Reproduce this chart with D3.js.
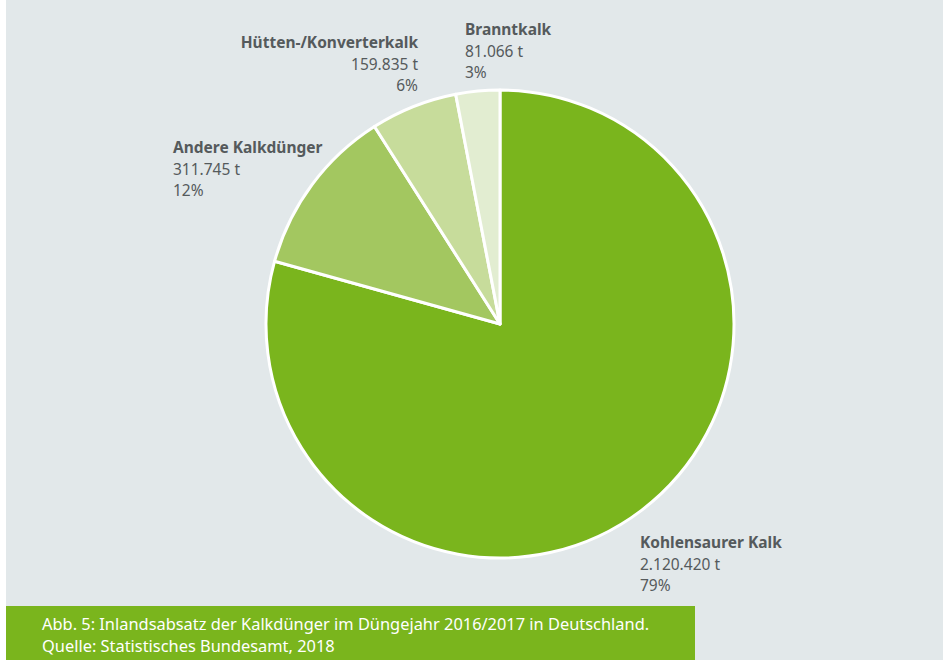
<!DOCTYPE html>
<html>
<head>
<meta charset="utf-8">
<script src="https://cdn.jsdelivr.net/npm/d3@7"></script>
<style>
  body { margin: 0; background: #fff; }
  svg { display: block; font-family: "Noto Sans", sans-serif; }
</style>
</head>
<body>
<svg width="943" height="660"></svg>
<script>
// data
const categories = ["Kohlensaurer Kalk", "Andere Kalkdünger", "Hütten-/Konverterkalk", "Branntkalk"];
const tonnes = [2120420, 311745, 159835, 81066];
const tonneLabels = ["2.120.420 t", "311.745 t", "159.835 t", "81.066 t"];
const percentLabels = ["79%", "12%", "6%", "3%"];
const colors = ["#7ab51d", "#a3c760", "#c7dc9b", "#e2edd1"];

// label anchor spots and alignment
const labelPos = [
  {x: 640, y: 548, anchor: "start"},
  {x: 173, y: 153, anchor: "start"},
  {x: 418, y: 48, anchor: "end"},
  {x: 465, y: 35, anchor: "start"}
];

const caption = [
  "Abb. 5: Inlandsabsatz der Kalkdünger im Düngejahr 2016/2017 in Deutschland.",
  "Quelle: Statistisches Bundesamt, 2018"
];

const svg = d3.select("svg");
const width = 943, height = 660;

svg.append("rect")
  .attr("x", 6).attr("y", 0)
  .attr("width", width - 6).attr("height", height)
  .attr("fill", "#e2e8ea");

const cx = 500, cy = 324, r = 234;

const pie = d3.pie().sort(null).value(d => d);
const arc = d3.arc().innerRadius(0).outerRadius(r);

const g = svg.append("g").attr("transform", "translate(" + cx + "," + cy + ")");

g.selectAll("path")
  .data(pie(tonnes))
  .enter().append("path")
  .attr("d", arc)
  .attr("fill", (d, i) => colors[i])
  .attr("stroke", "#fff")
  .attr("stroke-width", 3)
  .attr("stroke-linejoin", "round");

const labels = svg.append("g")
  .selectAll("text")
  .data(categories)
  .enter().append("text")
  .attr("x", (d, i) => labelPos[i].x)
  .attr("y", (d, i) => labelPos[i].y)
  .attr("text-anchor", (d, i) => labelPos[i].anchor)
  .attr("font-size", 15.5)
  .attr("fill", "#555a5c");

labels.append("tspan")
  .attr("font-weight", "bold")
  .text(d => d);
labels.append("tspan")
  .attr("x", (d, i) => labelPos[i].x)
  .attr("dy", 21.5)
  .text((d, i) => tonneLabels[i]);
labels.append("tspan")
  .attr("x", (d, i) => labelPos[i].x)
  .attr("dy", 21.5)
  .text((d, i) => percentLabels[i]);

// caption box
svg.append("rect")
  .attr("x", 6).attr("y", 606)
  .attr("width", 689).attr("height", 54)
  .attr("fill", "#7ab51d");

svg.append("g")
  .selectAll("text")
  .data(caption)
  .enter().append("text")
  .attr("x", 42)
  .attr("y", (d, i) => 630 + i * 22)
  .attr("font-size", 16.4)
  .attr("fill", "#fff")
  .text(d => d);
</script>
</body>
</html>
